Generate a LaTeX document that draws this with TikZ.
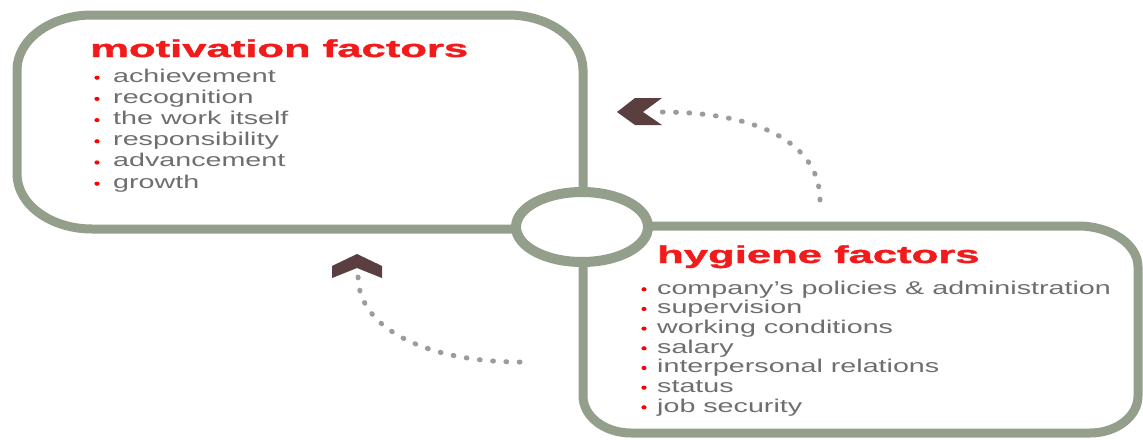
\documentclass[tikz,border=0pt]{standalone}
\usepackage{fontspec}
\setmainfont{Liberation Sans}
\newfontfamily\heavyfont{Liberation Sans Bold}[FakeBold=1.2]
\usepackage{graphicx}
\usetikzlibrary{shapes.geometric}
\definecolor{sage}{HTML}{939E8B}
\definecolor{titlered}{HTML}{F21B1B}
\definecolor{itemgray}{HTML}{6E6E6E}
\definecolor{chev}{HTML}{5B3E40}
\definecolor{dotgray}{HTML}{9C9C9C}
\newcommand{\ttltxt}[1]{\scalebox{1.78}[1]{\fontsize{24.5}{24}\heavyfont #1}}
\newcommand{\itmtxt}[1]{\scalebox{1.55}[1]{\fontsize{18.5}{20}\selectfont #1}}
\begin{document}
\begin{tikzpicture}[x=1pt,y=-1pt,
  frame/.style={draw=sage,line width=9pt},
  titletext/.style={anchor=base west,inner sep=0pt,text=titlered},
  itemtext/.style={anchor=base west,inner sep=0pt,text=itemgray},
  bulletdot/.style={fill=red},
  chevron/.style={fill=chev,draw=none},
  dotline/.style={draw=dotgray,line width=5pt,line cap=round,dash pattern=on 0.8pt off 12.5pt}]
\useasboundingbox (0,0) rectangle (1143,439);
% motivation box
\draw[frame] (583,229) -- (583,70) .. controls (583,39.6) and (549.4,15) .. (508,15) -- (92,15)
  .. controls (50.6,15) and (17,39.6) .. (17,70) -- (17,174)
  .. controls (17,204.4) and (50.6,229) .. (92,229) -- cycle;
% hygiene box
\draw[frame] (583,226) -- (1078,226) .. controls (1111.1,226) and (1138,244.4) .. (1138,267)
  -- (1138,396) .. controls (1138,416.4) and (1116.5,433) .. (1090,433) -- (631,433)
  .. controls (604.5,433) and (583,416.4) .. (583,396) -- cycle;
% hub
\node[ellipse,draw=sage,line width=10pt,fill=white,minimum width=132pt,minimum height=70pt,inner sep=0pt] (hub) at (582,227) {};
% titles
\node[titletext] (mtitle) at (90,57) {\ttltxt{motivation factors}};
\node[titletext] (htitle) at (657,263) {\ttltxt{hygiene factors}};
% motivation items
\foreach \t [count=\i] in {achievement,recognition,the work itself,responsibility,advancement,growth}{
  \node[itemtext] (m\i) at (113,{82+21.2*(\i-1)}) {\itmtxt{\t}};
  \fill[bulletdot] (97,{77.7+21.2*(\i-1)}) ellipse [x radius=2.6pt,y radius=2.1pt];
}
% hygiene items
\foreach \t [count=\i] in {{company’s policies \& administration},supervision,working conditions,salary,interpersonal relations,status,job security}{
  \node[itemtext] (h\i) at (657,{294+19.67*(\i-1)}) {\itmtxt{\t}};
  \fill[bulletdot] (644,{289.3+19.67*(\i-1)}) ellipse [x radius=2.6pt,y radius=2.1pt];
}
% chevrons
\fill[chevron] (617,112) -- (635,98) -- (662,98) -- (643,112) -- (662,125) -- (635,125) -- cycle;
\coordinate (uptip) at (660,112);
\coordinate (upstart) at (820,200);
\fill[chevron] (357,254) -- (382,266) -- (382,278) -- (357,268) -- (332,278) -- (332,266) -- cycle;
\coordinate (lotip) at (358,276);
\coordinate (lostart) at (520,362);
% dotted connectors
\draw[dotline] (upstart) .. controls (820,150) and (770,112) .. (uptip);
\draw[dotline] (lostart) .. controls (430,362) and (358,330) .. (lotip);
\end{tikzpicture}
\end{document}
